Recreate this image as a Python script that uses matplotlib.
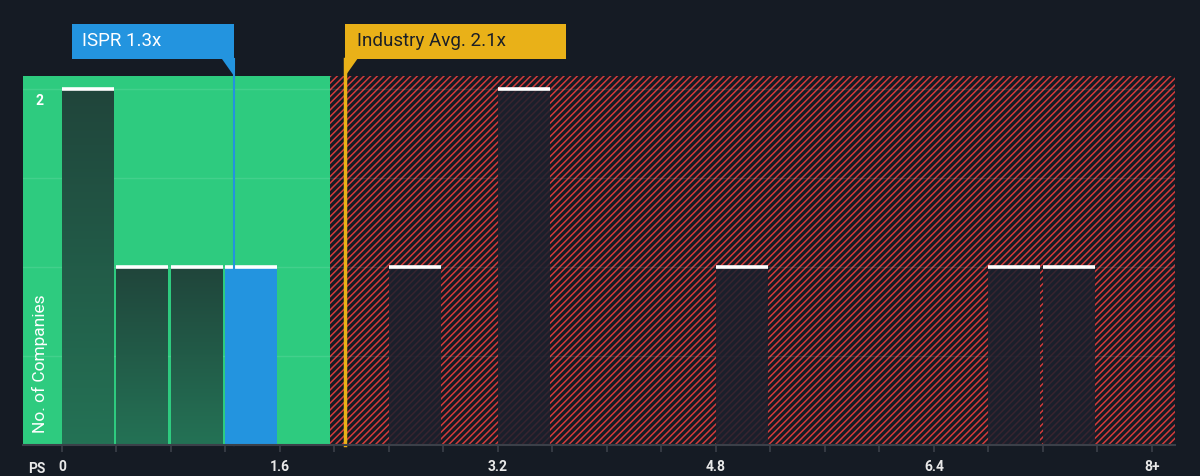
import matplotlib
matplotlib.use("Agg")
import matplotlib.pyplot as plt
import matplotlib.transforms as mtransforms
from matplotlib.patches import Rectangle, Polygon
import numpy as np

# data
bin_starts = [0.0, 0.4, 0.8, 1.2, 2.4, 3.2, 4.8, 6.8, 7.2]
counts = [2, 1, 1, 1, 1, 2, 1, 1, 1]
company_bin = 1.2          # the bin holding ISPR
company_value = 1.26
company_label = "ISPR 1.3x"
industry_value = 2.08
industry_label = "Industry Avg. 2.1x"
fair_limit = 1.97          # green zone ends here
tick_values = [0, 1.6, 3.2, 4.8, 6.4, 8.0]
tick_labels = ["0", "1.6", "3.2", "4.8", "6.4", "8+"]

BG = "#151b24"
GREEN = "#2ecb7f"
RED = "#d23b3b"
BLUE = "#2394df"
GOLD = "#e9b118"

plt.rcParams['font.family'] = ['Roboto', 'DejaVu Sans']
plt.rcParams['hatch.linewidth'] = 1.1

fig = plt.figure(figsize=(12, 4.76), dpi=100, facecolor=BG)
ax_bot = 31 / 476
ax = fig.add_axes([23 / 1200, ax_bot, 1152 / 1200, 369 / 476])
ax.set_facecolor(BG)
xmin, xmax = -0.286, 8.17
ymax = 2.073
ax.set_xlim(xmin, xmax)
ax.set_ylim(0, ymax)

# zones
ax.add_patch(Rectangle((xmin, 0), fair_limit - xmin, ymax, facecolor=GREEN,
                       edgecolor="none", zorder=0))
ax.add_patch(Rectangle((fair_limit, 0), xmax - fair_limit, ymax, facecolor=BG,
                       edgecolor=RED, linewidth=0, hatch="/////", zorder=0))

# faint gridlines
for gy in [0.5, 1.0, 1.5, 2.0]:
    ax.axhline(gy, color="white", alpha=0.1, lw=1, zorder=1)

width = 0.38
grad = np.linspace(0, 1, 64).reshape(-1, 1)
top_c = np.array(matplotlib.colors.to_rgb("#20453b"))
bot_c = np.array(matplotlib.colors.to_rgb("#247255"))
for x0, c in zip(bin_starts, counts):
    if x0 == company_bin:
        ax.add_patch(Rectangle((x0, 0), width, c, facecolor=BLUE,
                               edgecolor="none", zorder=2))
    elif x0 < fair_limit:
        img = top_c[None, None, :] * (1 - grad[:, :, None]) + bot_c[None, None, :] * grad[:, :, None]
        ax.imshow(img, extent=[x0, x0 + width, 0, c], aspect="auto",
                  origin="upper", zorder=2, interpolation="bilinear")
    else:
        ax.add_patch(Rectangle((x0, 0), width, c, facecolor="#1c202d",
                               alpha=0.85, edgecolor="none", zorder=2))
    ax.plot([x0, x0 + width], [c, c], color="white", lw=2.6,
            solid_capstyle="butt", zorder=4)
ax.set_xlim(xmin, xmax)
ax.set_ylim(0, ymax)

# marker lines and labels
blend = mtransforms.blended_transform_factory(ax.transData, fig.transFigure)
box_bot = (476 - 59) / 476
box_top = (476 - 24) / 476
ax_top = (476 - 76) / 476
px = (xmax - xmin) / 1152  # one pixel in data units

ax.plot([company_value, company_value], [ax_bot, box_bot], transform=blend,
        color=BLUE, lw=1.5, zorder=5, clip_on=False)
ax.add_patch(Rectangle((company_value - 162 * px, box_bot), 162 * px, box_top - box_bot,
                       transform=blend, facecolor=BLUE, edgecolor="none",
                       clip_on=False, zorder=6))
ax.add_patch(Polygon([[company_value - 12 * px, box_bot], [company_value, box_bot],
                      [company_value, ax_top]], closed=True, transform=blend,
                     facecolor=BLUE, edgecolor="none", clip_on=False, zorder=6))
ax.text(company_value - 152 * px, (box_bot + box_top) / 2, company_label,
        transform=blend, color="white", fontsize=13.5, va="center", ha="left", zorder=7)

ax.plot([industry_value, industry_value], [ax_bot, box_bot], transform=blend,
        color=GOLD, lw=2.5, zorder=5, clip_on=False)
ax.add_patch(Rectangle((industry_value, box_bot), 221 * px, box_top - box_bot,
                       transform=blend, facecolor=GOLD, edgecolor="none",
                       clip_on=False, zorder=6))
ax.add_patch(Polygon([[industry_value, box_bot], [industry_value + 12 * px, box_bot],
                      [industry_value, ax_top]], closed=True, transform=blend,
                     facecolor=GOLD, edgecolor="none", clip_on=False, zorder=6))
ax.text(industry_value + 12 * px, (box_bot + box_top) / 2, industry_label,
        transform=blend, color="#1b1f27", fontsize=13.5, va="center", ha="left", zorder=7)

# axes styling
for s in ["top", "right", "left"]:
    ax.spines[s].set_visible(False)
ax.spines["bottom"].set_color("#3b4049")
ax.spines["bottom"].set_linewidth(1.5)
ax.spines["bottom"].set_zorder(8)
ax.set_yticks([])
ax.set_xticks(tick_values)
ax.set_xticklabels(tick_labels, color="#e8e8e8", fontsize=10, fontweight="bold")
ax.set_xticks(np.arange(0, 8.01, 0.4), minor=True)
ax.tick_params(axis="x", which="both", color="#3b4049", length=5, width=1.2, pad=6)

ax.text(-0.25, -0.065, "PS", transform=ax.get_xaxis_transform(), color="#e8e8e8",
        fontsize=10, fontweight="bold", ha="left", va="center")
ax.text(17 / 1152, 2.0 - 0.03, "2", transform=ax.get_yaxis_transform(), color="white",
        fontsize=10, fontweight="bold", ha="center", va="top", zorder=7)
ax.text(17 / 1152, 12 / 369, "No. of Companies", transform=ax.transAxes, color="white",
        fontsize=12.5, rotation=90, ha="center", va="bottom", zorder=7)

fig.savefig("out.png", dpi=100, facecolor=BG)
